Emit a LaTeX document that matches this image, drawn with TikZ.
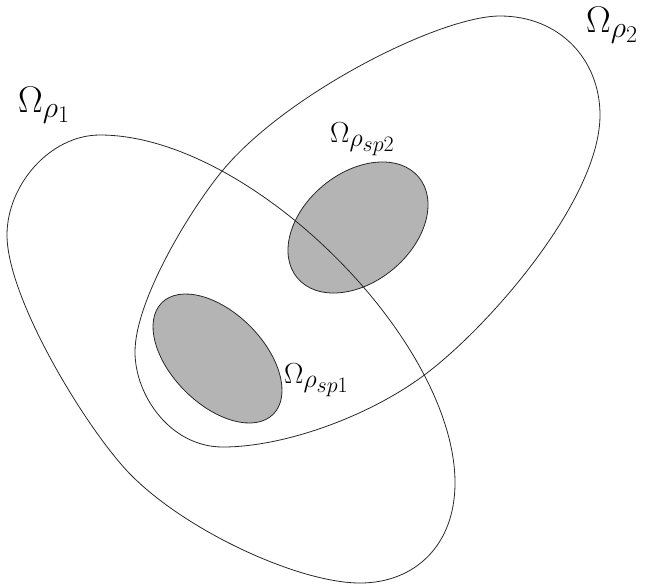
\RequirePackage{fix-cm}
\documentclass[tikz,border=0pt]{standalone}
\DeclareMathSizes{37}{37}{30}{24}
\DeclareMathSizes{29}{29}{26}{22}
\definecolor{spfill}{RGB}{180,180,180}
\definecolor{ln}{RGB}{40,40,40}
\tikzset{
  outline/.style={draw=ln, line width=0.8pt},
  spregion/.style={fill=spfill},
  biglab/.style={anchor=base west, inner sep=0pt, font=\fontsize{37}{40}\selectfont},
  smalllab/.style={anchor=base west, inner sep=0pt, font=\fontsize{29}{32}\selectfont}
}
\begin{document}
\begin{tikzpicture}[x=1pt,y=-1pt]
\useasboundingbox (0,0) rectangle (648,587);
% filled sub-regions
\fill[spregion, rotate around={39.6:(358,227.5)}] (358,227.5) ellipse [x radius=78.9pt, y radius=54.5pt];
\fill[spregion, rotate around={-45:(217.5,358.5)}] (217.5,358.5) ellipse [x radius=78.8pt, y radius=45.9pt];
% Omega rho1
\draw[outline] (100,135)
  .. controls (250,135) and (455,340) .. (455,483)
  .. controls (455,545) and (415,583) .. (360,583)
  .. controls (300,583) and (190,533) .. (133,477)
  .. controls (90,435) and (7,300) .. (7,235)
  .. controls (7,185) and (50,135) .. cycle;
% Omega rho2
\draw[outline] (500,16)
  .. controls (560,16) and (600,60) .. (600,115)
  .. controls (600,200) and (487.5,328.6) .. (423,376)
  .. controls (366.6,417.5) and (283,447) .. (223,447)
  .. controls (170,447) and (135,395) .. (135,352)
  .. controls (135,300) and (191,208.4) .. (223,170)
  .. controls (287,93.2) and (440,16) .. cycle;
% outlines of sub-regions
\draw[outline, rotate around={39.6:(358,227.5)}] (358,227.5) ellipse [x radius=78.9pt, y radius=54.5pt];
\draw[outline, rotate around={-45:(217.5,358.5)}] (217.5,358.5) ellipse [x radius=78.8pt, y radius=45.9pt];
% labels
\node[biglab] (l1) at (18,112) {$\Omega_{\rho_1}$};
\node[biglab] (l2) at (586,32) {$\Omega_{\rho_2}$};
\node[smalllab] (l3) at (330,142) {$\Omega_{\rho_{sp2}}$};
\node[smalllab] (l4) at (284,383) {$\Omega_{\rho_{sp1}}$};
\end{tikzpicture}
\end{document}
